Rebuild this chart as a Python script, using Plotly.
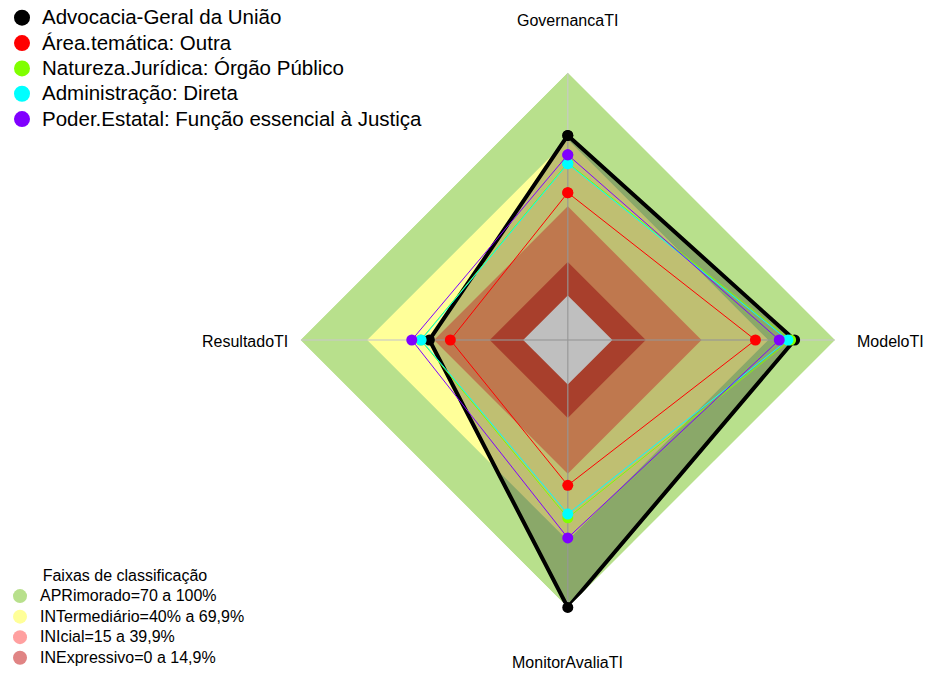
import plotly.graph_objects as go

# ---------------- data ----------------
categories = ["GovernancaTI", "ModeloTI", "MonitorAvaliaTI", "ResultadoTI"]

series_names = [
    "Advocacia-Geral da União",
    "Área.temática: Outra",
    "Natureza.Jurídica: Órgão Público",
    "Administração: Direta",
    "Poder.Estatal: Função essencial à Justiça",
]
agu_values = [71.8, 81.8, 100.0, 42.1]
area_values = [46.1, 64.2, 45.2, 32.7]
natureza_values = [59.5, 80.0, 59.8, 46.0]
administracao_values = [59.1, 78.8, 58.1, 45.8]
poder_values = [63.1, 74.9, 68.8, 50.0]
series_values = [agu_values, area_values, natureza_values, administracao_values, poder_values]
series_colors = ["#000000", "#FF0000", "#80FF00", "#00FFFF", "#8000FF"]

band_names = [
    "APRimorado=70 a 100%",
    "INTermediário=40% a 69,9%",
    "INIcial=15 a 39,9%",
    "INExpressivo=0 a 14,9%",
]
band_upper = [100, 70, 40, 15]
band_lower_limit = 0
band_fill_colors = ["#B8E08C", "#FFFF99", "#FFA068", "#E0553B"]
band_legend_colors = ["#B8E08C", "#FFFF99", "#FFA0A0", "#E08484"]

radial_min = -20
radial_max = 100

FONT = "Liberation Sans, Arial, sans-serif"

fig = go.Figure()

closed_theta = categories + [categories[0]]

# classification bands
for name, up, col in zip(band_names, band_upper, band_fill_colors):
    fig.add_trace(go.Scatterpolar(
        r=[up] * len(closed_theta), theta=closed_theta, mode="lines",
        fill="toself", fillcolor=col, line=dict(width=0, color=col),
        showlegend=False, hoverinfo="skip"))
# centre (below zero) left blank
fig.add_trace(go.Scatterpolar(
    r=[band_lower_limit] * len(closed_theta), theta=closed_theta, mode="lines",
    fill="toself", fillcolor="#FFFFFF", line=dict(width=0, color="#FFFFFF"),
    showlegend=False, hoverinfo="skip"))

# spokes
for cat in categories:
    fig.add_trace(go.Scatterpolar(
        r=[radial_min, radial_max], theta=[cat, cat], mode="lines",
        line=dict(color="rgba(200,200,200,0.75)", width=1.5),
        showlegend=False, hoverinfo="skip"))

# series
for i, (name, vals, col) in enumerate(zip(series_names, series_values, series_colors)):
    r = vals + [vals[0]]
    if i == 0:
        fig.add_trace(go.Scatterpolar(
            r=r, theta=closed_theta, mode="lines+markers", name=name,
            fill="toself", fillcolor="rgba(0,0,0,0.25)",
            line=dict(color=col, width=4), marker=dict(size=11, color=col),
            showlegend=False))
    else:
        fig.add_trace(go.Scatterpolar(
            r=r, theta=closed_theta, mode="lines+markers", name=name,
            line=dict(color=col, width=1), marker=dict(size=11, color=col),
            showlegend=False))

# legend entries (series)
for name, col in zip(series_names, series_colors):
    fig.add_trace(go.Scatterpolar(
        r=[None], theta=[None], mode="markers",
        name=f'<span style="font-size:20.5px">{name}</span>',
        marker=dict(size=16, color=col), legend="legend", showlegend=True))

# legend entries (bands)
for name, col in zip(band_names, band_legend_colors):
    fig.add_trace(go.Scatterpolar(
        r=[None], theta=[None], mode="markers",
        name=f'<span style="font-size:16px">{name}</span>',
        marker=dict(size=14, color=col), legend="legend2", showlegend=True))

W, H = 925, 673
cx, cy, rad = 567, 340, 268

fig.update_layout(
    width=W, height=H,
    margin=dict(l=0, r=0, t=0, b=0),
    paper_bgcolor="white",
    font=dict(family=FONT, color="black"),
    polar=dict(
        domain=dict(x=[(cx - rad) / W, (cx + rad) / W],
                    y=[(H - cy - rad) / H, (H - cy + rad) / H]),
        bgcolor="rgba(0,0,0,0)",
        gridshape="linear",
        radialaxis=dict(range=[radial_min, radial_max], visible=False,
                        showgrid=False, showline=False, showticklabels=False),
        angularaxis=dict(type="category", categoryorder="array",
                         categoryarray=categories, rotation=90,
                         direction="clockwise", showgrid=False,
                         showline=False, showticklabels=False, ticks=""),
    ),
    legend=dict(x=0.0, y=1.0, xanchor="left", yanchor="top",
                bgcolor="rgba(0,0,0,0)", font=dict(family=FONT, size=17.2),
                tracegroupgap=0),
    legend2=dict(x=-2 / W, y=0.0, xanchor="left", yanchor="bottom",
                 bgcolor="rgba(0,0,0,0)", font=dict(family=FONT, size=13.5),
                 title=dict(text="Faixas de classificação", side="top center",
                            font=dict(family=FONT, size=16))),
    showlegend=True,
)

label_pos = {
    "GovernancaTI": dict(x=567, y=20, xanchor="center"),
    "ModeloTI": dict(x=855, y=341, xanchor="left"),
    "MonitorAvaliaTI": dict(x=567, y=662, xanchor="center"),
    "ResultadoTI": dict(x=289, y=341, xanchor="right"),
}
for cat in categories:
    p = label_pos[cat]
    fig.add_annotation(text=cat, x=p["x"] / W, y=1 - p["y"] / H,
                       xref="paper", yref="paper", xanchor=p["xanchor"],
                       yanchor="middle", showarrow=False,
                       font=dict(family=FONT, size=16, color="black"))

fig.write_html("out.html", config={"displayModeBar": False},
               post_script="document.body.style.margin='0';document.body.style.overflow='hidden';")
